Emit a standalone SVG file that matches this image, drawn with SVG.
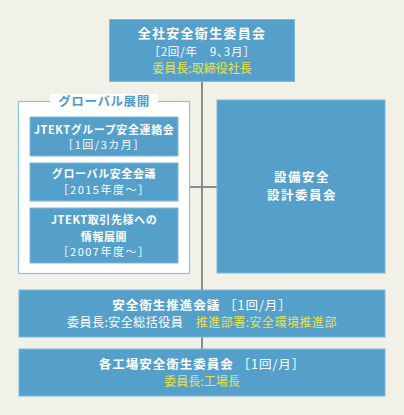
<svg xmlns="http://www.w3.org/2000/svg" width="404" height="415" viewBox="0 0 404 415">
<style>
.box{fill:#55a0cb;stroke:#7fb8da;stroke-width:1}
.t{font-family:"Noto Sans CJK JP","Liberation Sans",sans-serif;fill:#ffffff;text-anchor:middle}
.b{font-weight:bold}
.y{fill:#e8e24a}
.ln{stroke:#8c8c8c;stroke-width:2;fill:none}
.in{font-size:11px;letter-spacing:0.6px}
.br{font-size:11px;letter-spacing:1.5px}
</style>
<rect x="0" y="0" width="404" height="415" fill="#f2f1e7"/>
<g id="connectors">
<line class="ln" x1="202" y1="81" x2="202" y2="290"/>
<line class="ln" x1="202" y1="337" x2="202" y2="349"/>
<line class="ln" x1="189" y1="187" x2="217" y2="187"/>
</g>
<g id="zensha">
<rect class="box" x="109.500" y="19.500" width="185" height="62"/>
<text class="t b" x="202" y="38" font-size="13" letter-spacing="1.3">全社安全衛生委員会</text>
<text class="t" x="202" y="56" font-size="11.500" letter-spacing="0.8">［2回/年　9､3月］</text>
<text class="t y" x="202" y="73" font-size="12">委員長:取締役社長</text>
</g>
<g id="global">
<rect x="18.500" y="101.500" width="171" height="172" fill="#ffffff" stroke="#8ec1e0" stroke-width="1.200"/>
<rect x="50" y="94" width="108" height="14" fill="#ffffff"/>
<text class="t b" x="104" y="106" font-size="12.500" style="fill:#4f9bcb" letter-spacing="0.6">グローバル展開</text>
</g>
<g id="jtekt-group">
<rect class="box" x="30" y="117" width="148" height="39"/>
<text class="t b in" x="104" y="134">JTEKTグループ安全連絡会</text>
<text class="t br" x="104" y="149">［1回/3カ月］</text>
</g>
<g id="global-meeting">
<rect class="box" x="30" y="163" width="148" height="38"/>
<text class="t b in" x="104" y="178">グローバル安全会議</text>
<text class="t br" x="104" y="194">［2015年度～］</text>
</g>
<g id="supplier">
<rect class="box" x="30" y="208" width="148" height="55"/>
<text class="t b in" x="104" y="224">JTEKT取引先様への</text>
<text class="t b in" x="104" y="241">情報展開</text>
<text class="t br" x="104" y="256">［2007年度～］</text>
</g>
<g id="setsubi">
<rect class="box" x="217" y="100" width="168" height="173"/>
<text class="t b" x="302" y="182" font-size="12.500" letter-spacing="1.5">設備安全</text>
<text class="t b" x="302" y="200" font-size="12.500" letter-spacing="1.5">設計委員会</text>
</g>
<g id="suishin">
<rect class="box" x="19" y="290" width="366" height="47"/>
<text class="t" x="202" y="310" font-size="12.500" letter-spacing="1"><tspan class="b">安全衛生推進会議</tspan> ［1回/月］</text>
<text class="t" x="202" y="327" font-size="12" letter-spacing="0.5">委員長:安全総括役員　<tspan class="y">推進部署:安全環境推進部</tspan></text>
</g>
<g id="kojo">
<rect class="box" x="19" y="349" width="366" height="47"/>
<text class="t" x="202" y="369" font-size="12.500" letter-spacing="1"><tspan class="b">各工場安全衛生委員会</tspan> ［1回/月］</text>
<text class="t y" x="202" y="386" font-size="12">委員長:工場長</text>
</g>
</svg>
